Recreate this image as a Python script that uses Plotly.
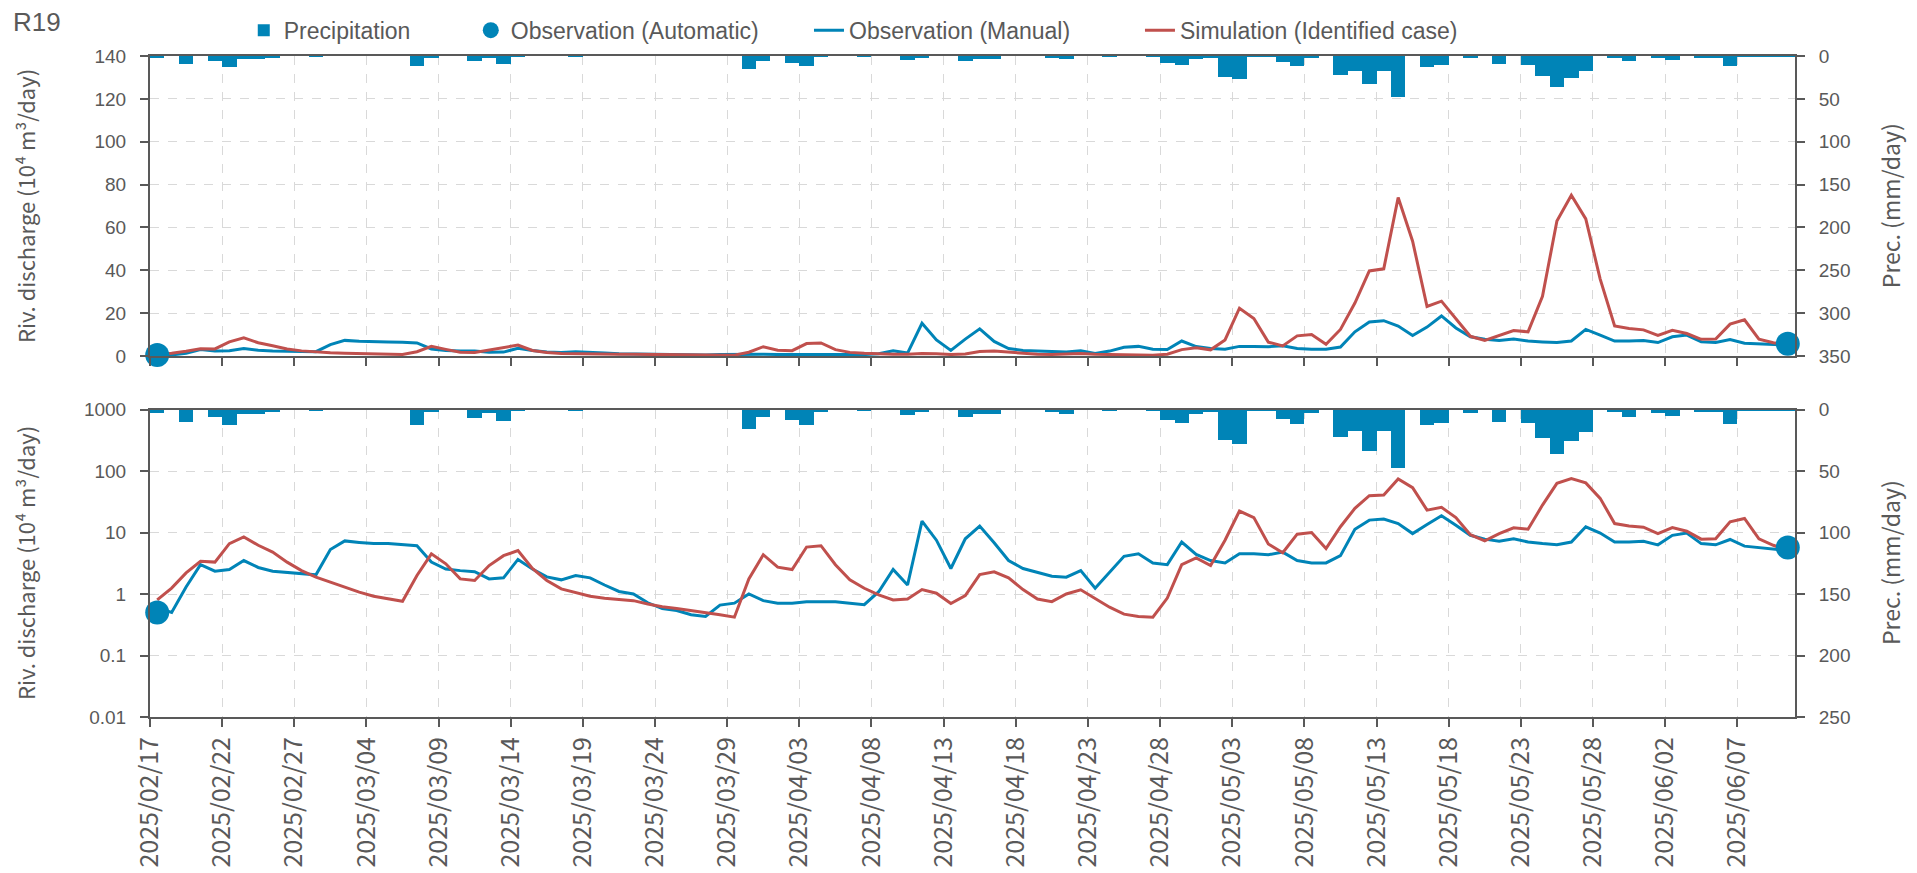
import pandas as pd
import plotly.graph_objects as go
from plotly.subplots import make_subplots

# ---------------- data ----------------
dates = pd.date_range("2025-02-17", "2025-06-10", freq="D")

precipitation = [
    2.7, 0, 9.5, 0, 6.0, 12.4, 3.6, 3.0, 1.4, 0,
    0, 0.5, 0, 0, 0, 0, 0, 0, 11.8, 2.0,
    0, 0, 6.3, 2.7, 8.8, 0.5, 0, 0, 0, 0.5,
    0, 0, 0, 0, 0, 0, 0, 0, 0, 0,
    0, 15.5, 5.5, 0, 8.5, 12.0, 1.0, 0, 0, 0.5,
    0, 0, 4.3, 1.4, 0, 0, 6.0, 3.0, 3.0, 0,
    0, 0, 1.8, 3.3, 0, 0, 0.8, 0, 0, 0.8,
    8.5, 10.7, 3.0, 2.0, 24.0, 27.3, 0.8, 0.5, 7.3, 11.5,
    2.7, 0, 22.0, 17.0, 33.0, 17.0, 47.5, 0, 12.4, 10.4,
    0, 2.2, 0, 9.6, 0, 10.4, 23.0, 36.0, 25.5, 18.0,
    0, 1.9, 5.5, 0, 2.7, 4.9, 0, 1.9, 1.9, 11.5,
    0.5, 0.5, 0.3, 0.3,
]

obs_manual = [
    0.6, 0.5, 1.3, 3.0, 2.35, 2.5, 3.5, 2.7, 2.35, 2.25,
    2.1, 2.05, 5.3, 7.3, 6.9, 6.6, 6.6, 6.4, 6.1, 3.3,
    2.55, 2.4, 2.3, 1.76, 1.83, 3.65, 2.55, 1.9, 1.7, 2.0,
    1.83, 1.4, 1.1, 1.0, 0.72, 0.58, 0.54, 0.46, 0.43, 0.66,
    0.71, 1.0, 0.78, 0.71, 0.71, 0.75, 0.75, 0.75, 0.71, 0.67,
    1.09, 2.5, 1.4, 15.3, 7.5, 2.6, 7.9, 12.7, 6.8, 3.5,
    2.6, 2.27, 1.95, 1.88, 2.4, 1.24, 2.3, 4.1, 4.5, 3.2,
    3.0, 7.0, 4.4, 3.5, 3.2, 4.5, 4.5, 4.35, 4.8, 3.5,
    3.2, 3.2, 4.2, 11.3, 15.9, 16.5, 14.0, 9.6, 13.5, 18.7,
    13.1, 9.0, 7.8, 7.2, 7.9, 7.0, 6.6, 6.3, 7.0, 12.4,
    9.8, 7.0, 7.0, 7.2, 6.3, 9.0, 9.8, 6.6, 6.3, 7.7,
    6.0, 5.7, 5.4, 5.1,
]

simulation = [
    0.8, 1.25, 2.2, 3.4, 3.3, 6.6, 8.5, 6.2, 4.8, 3.3,
    2.4, 1.88, 1.56, 1.29, 1.07, 0.92, 0.83, 0.76, 2.0, 4.5,
    3.1, 1.76, 1.66, 2.9, 4.2, 5.1, 2.6, 1.66, 1.21, 1.04,
    0.92, 0.85, 0.81, 0.78, 0.69, 0.62, 0.58, 0.54, 0.49, 0.46,
    0.42, 1.76, 4.35, 2.73, 2.5, 5.8, 6.1, 3.0, 1.7, 1.24,
    0.97, 0.8, 0.83, 1.18, 1.03, 0.7, 0.94, 2.07, 2.3, 1.83,
    1.18, 0.83, 0.75, 1.0, 1.17, 0.85, 0.61, 0.47, 0.43, 0.42,
    0.86, 3.0, 3.85, 2.9, 7.5, 22.3, 17.5, 6.5, 4.7, 9.4,
    10.0, 5.5, 12.4, 24.7, 39.7, 40.7, 74.0, 53.6, 23.1, 25.6,
    17.5, 9.2, 7.3, 9.6, 11.9, 11.3, 27.9, 63.0, 75.0, 64.0,
    35.9, 14.0, 12.8, 12.2, 9.6, 12.0, 10.5, 7.8, 7.9, 14.9,
    16.9, 7.9, 6.2, 5.1,
]

obs_auto_dates = ["2025-02-17", "2025-06-10"]
obs_auto_values = [0.5, 5.7]

tick_dates = pd.date_range("2025-02-17", "2025-06-07", freq="5D")
tick_labels = [d.strftime("%Y/%m/%d") for d in tick_dates]

lin_ticks = [0, 20, 40, 60, 80, 100, 120, 140]
log_ticks = [0.01, 0.1, 1, 10, 100, 1000]
log_labels = ["0.01", "0.1", "1", "10", "100", "1000"]
prec_ticks_top = [0, 50, 100, 150, 200, 250, 300, 350]
prec_ticks_bot = [0, 50, 100, 150, 200, 250]

# ---------------- style ----------------
BLUE = "#0084B7"
RED = "#C0504D"
AXIS = "#595959"
GRID = "#D9D9D9"
NUM_FONT = "Liberation Sans, Arial, sans-serif"
JP_FONT = "Noto Sans CJK JP, Noto Sans, sans-serif"

x_mid = dates + pd.Timedelta(hours=12)
auto_x = pd.to_datetime(obs_auto_dates) + pd.Timedelta(hours=12)

fig = make_subplots(rows=2, cols=1,
                    specs=[[{"secondary_y": True}], [{"secondary_y": True}]])

for row in (1, 2):
    first = row == 1
    fig.add_trace(go.Bar(x=x_mid, y=precipitation, width=86400000,
                         marker=dict(color=BLUE, line=dict(width=0)),
                         name="Precipitation", legend="legend",
                         showlegend=first), row=row, col=1, secondary_y=True)
    fig.add_trace(go.Scatter(x=x_mid, y=obs_manual, mode="lines",
                             line=dict(color=BLUE, width=3),
                             name="Observation (Manual)", legend="legend3",
                             showlegend=first), row=row, col=1, secondary_y=False)
    fig.add_trace(go.Scatter(x=x_mid, y=simulation, mode="lines",
                             line=dict(color=RED, width=3),
                             name="Simulation (Identified case)", legend="legend4",
                             showlegend=first), row=row, col=1, secondary_y=False)
    fig.add_trace(go.Scatter(x=auto_x, y=obs_auto_values, mode="markers",
                             marker=dict(color=BLUE, size=24),
                             cliponaxis=False,
                             name="Observation (Automatic)", legend="legend2",
                             showlegend=first), row=row, col=1, secondary_y=False)

xrange = ["2025-02-17", "2025-06-11"]
xcommon = dict(type="date", range=xrange, tickvals=list(tick_dates), ticktext=tick_labels,
               ticks="outside", ticklen=8, tickwidth=2, tickcolor=AXIS,
               showline=True, linecolor=AXIS, linewidth=2, mirror=True,
               showgrid=True, gridcolor=GRID, griddash="dash", gridwidth=1,
               domain=[0, 1], zeroline=False, automargin=False)
ycommon = dict(ticks="outside", ticklen=8, tickwidth=2, tickcolor=AXIS,
               showline=True, linecolor=AXIS, linewidth=2,
               tickfont=dict(family=NUM_FONT, size=19, color=AXIS),
               ticklabelstandoff=10, zeroline=False, automargin=False)

TOP_DOM = [0.5461, 1.0]
BOT_DOM = [0.0, 0.4652]

legend_font = dict(family=NUM_FONT, size=23, color=AXIS)


def legend_box(xpos):
    return dict(x=xpos, y=1.039, xanchor="left", yanchor="middle", orientation="h",
                bgcolor="rgba(0,0,0,0)", font=legend_font)


fig.update_layout(
    width=1917, height=873,
    margin=dict(l=150, r=122, t=56, b=156, autoexpand=False),
    plot_bgcolor="white", paper_bgcolor="white",
    bargap=0,
    xaxis=dict(**xcommon, showticklabels=False),
    xaxis2=dict(**xcommon, showticklabels=True, tickangle=-90,
                tickfont=dict(family=JP_FONT, size=25, color=AXIS)),
    yaxis=dict(**ycommon, domain=TOP_DOM, range=[0, 140], tickvals=lin_ticks,
               showgrid=True, gridcolor=GRID, griddash="dash"),
    yaxis2=dict(**ycommon, range=[350, 0], tickvals=prec_ticks_top, showgrid=False,
                side="right"),
    yaxis3=dict(**ycommon, domain=BOT_DOM, type="log", range=[-2, 3],
                tickvals=log_ticks, ticktext=log_labels,
                showgrid=True, gridcolor=GRID, griddash="dash"),
    yaxis4=dict(**ycommon, range=[250, 0], tickvals=prec_ticks_bot, showgrid=False,
                side="right"),
    legend=legend_box(0.057),
    legend2=legend_box(0.195),
    legend3=legend_box(0.4006),
    legend4=legend_box(0.6018),
)

title_font = dict(family=JP_FONT, size=22, color=AXIS)
disc_title = "Riv. discharge (10⁴ m³/day)"
fig.add_annotation(text="R19", xref="paper", yref="paper", x=-0.0845, y=1.0514,
                   xanchor="left", yanchor="middle", showarrow=False,
                   font=dict(family=NUM_FONT, size=26, color=AXIS))
fig.add_annotation(text=disc_title, xref="paper", yref="paper", x=-0.076, y=0.773,
                   textangle=-90, showarrow=False, xanchor="center", yanchor="middle",
                   font=title_font)
fig.add_annotation(text=disc_title, xref="paper", yref="paper", x=-0.076, y=0.233,
                   textangle=-90, showarrow=False, xanchor="center", yanchor="middle",
                   font=title_font)
fig.add_annotation(text="Prec. (mm/day)", xref="paper", yref="paper", x=1.0578, y=0.773,
                   textangle=-90, showarrow=False, xanchor="center", yanchor="middle",
                   font=dict(family=JP_FONT, size=23, color=AXIS))
fig.add_annotation(text="Prec. (mm/day)", xref="paper", yref="paper", x=1.0578, y=0.233,
                   textangle=-90, showarrow=False, xanchor="center", yanchor="middle",
                   font=dict(family=JP_FONT, size=23, color=AXIS))

fig.write_html("out.html", config={"displayModeBar": False},
               post_script="document.body.style.margin='0px';document.body.style.overflow='hidden';")
